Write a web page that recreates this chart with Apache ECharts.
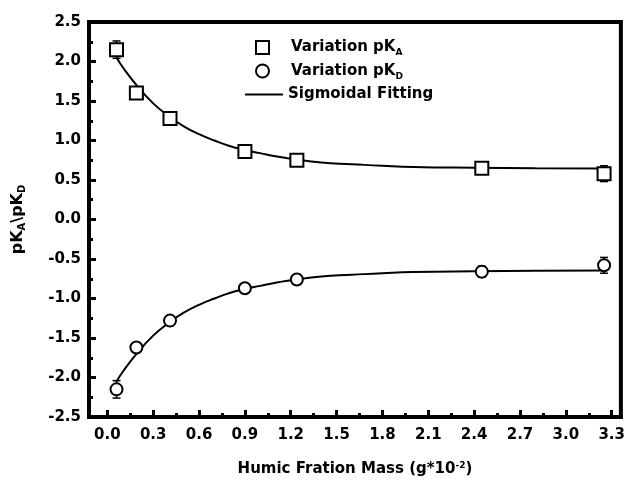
<!DOCTYPE html>
<html>
<head>
  <meta charset="UTF-8">
  <title>pKa pKd</title>
  <style>
    html, body { margin: 0; padding: 0; background: #fff; }
    #chart { width: 628px; height: 484px; }
  </style>
</head>
<body>
  <div id="chart"></div>
  <script src="https://cdn.jsdelivr.net/npm/echarts@6/dist/echarts.min.js"></script>
  <script>
    // measured points
    var massX = [0.06, 0.19, 0.41, 0.90, 1.24, 2.45, 3.25];
    var pKA = [2.15, 1.60, 1.28, 0.86, 0.75, 0.65, 0.58];
    var pKD = [-2.15, -1.62, -1.28, -0.87, -0.76, -0.66, -0.58];
    var errA = [0.11, 0.04, 0.04, 0.04, 0.04, 0.07, 0.10];
    var errD = [0.11, 0.04, 0.04, 0.04, 0.04, 0.07, 0.10];

    // sigmoidal fitting curves
    var fitX = [0.06, 0.1, 0.2, 0.3, 0.4, 0.5, 0.6, 0.7, 0.8, 0.9, 1.0, 1.1, 1.2, 1.4, 1.6, 1.8, 2.0, 2.4, 2.8, 3.25];
    var fitA = [2.05, 1.93, 1.68, 1.47, 1.31, 1.18, 1.08, 1.00, 0.93, 0.88, 0.84, 0.80, 0.77, 0.72, 0.70, 0.68, 0.665, 0.655, 0.65, 0.645];
    var fitD = [-2.05, -1.93, -1.68, -1.47, -1.31, -1.18, -1.08, -1.00, -0.93, -0.88, -0.84, -0.80, -0.77, -0.72, -0.70, -0.68, -0.665, -0.655, -0.65, -0.645];

    var xMajor = [0, 0.3, 0.6, 0.9, 1.2, 1.5, 1.8, 2.1, 2.4, 2.7, 3.0, 3.3];
    var xMinor = [0.15, 0.45, 0.75, 1.05, 1.35, 1.65, 1.95, 2.25, 2.55, 2.85, 3.15];

    function zip(xs, ys) {
      return xs.map(function (x, i) { return [x, ys[i]]; });
    }
    function errData(xs, ys, es) {
      return xs.map(function (x, i) { return [x, ys[i] - es[i], ys[i] + es[i]]; });
    }
    function renderErr(params, api) {
      var x = api.value(0);
      var lo = api.coord([x, api.value(1)]);
      var hi = api.coord([x, api.value(2)]);
      var w = 4;
      var st = { stroke: '#000', lineWidth: 1.5 };
      return {
        type: 'group',
        children: [
          { type: 'line', shape: { x1: lo[0], y1: lo[1], x2: hi[0], y2: hi[1] }, style: st },
          { type: 'line', shape: { x1: lo[0] - w, y1: lo[1], x2: lo[0] + w, y2: lo[1] }, style: st },
          { type: 'line', shape: { x1: hi[0] - w, y1: hi[1], x2: hi[0] + w, y2: hi[1] }, style: st }
        ]
      };
    }

    var font = 'DejaVu Sans, sans-serif';
    var myChart = echarts.init(document.getElementById('chart'));
    var option = {
      backgroundColor: '#fff',
      animation: false,
      textStyle: { fontFamily: font },
      grid: {
        left: 89, right: 6, top: 22, bottom: 67,
        show: true, borderColor: '#000', borderWidth: 4
      },
      legend: [{
        orient: 'vertical',
        left: 250, top: 35,
        itemGap: 6,
        itemWidth: 13, itemHeight: 13,
        data: ['Variation pKA', 'Variation pKD'],
        formatter: function (name) {
          return '{t|' + name.slice(0, -1) + '}{s|' + name.slice(-1) + '}';
        },
        textStyle: {
          rich: {
            t: { fontSize: 15, fontWeight: 'bold', color: '#000', fontFamily: font, padding: [0, 0, 0, 17] },
            s: { fontSize: 9, fontWeight: 'bold', color: '#000', fontFamily: font, padding: [11, 0, 0, 0] }
          }
        }
      }, {
        orient: 'vertical',
        left: 240, top: 82,
        itemWidth: 38, itemHeight: 2,
        data: [{ name: 'Sigmoidal Fitting', icon: 'rect' }],
        itemStyle: { color: '#000' },
        textStyle: { fontSize: 15, fontWeight: 'bold', color: '#000', fontFamily: font }
      }],
      xAxis: [{
        type: 'value',
        min: -0.12, max: 3.36,
        name: '{t|Humic Fration Mass (g*10}{s|-2}{t|)}',
        nameLocation: 'middle',
        nameGap: 44,
        nameTextStyle: {
          rich: {
            t: { fontSize: 15, fontWeight: 'bold', color: '#000', fontFamily: font },
            s: { fontSize: 9, fontWeight: 'bold', color: '#000', fontFamily: font, padding: [0, 0, 8, 0] }
          }
        },
        axisLine: { onZero: false, lineStyle: { color: '#000', width: 4 } },
        axisTick: { inside: true, length: 7, lineStyle: { color: '#000', width: 3 }, customValues: xMajor },
        axisLabel: {
          customValues: xMajor, margin: 11,
          fontSize: 15, fontWeight: 'bold', color: '#000',
          formatter: function (v) { return v.toFixed(1); }
        },
        splitLine: { show: false }
      }, {
        type: 'value',
        min: -0.12, max: 3.36,
        position: 'bottom',
        axisLine: { show: false, onZero: false },
        axisTick: { inside: true, length: 4, lineStyle: { color: '#000', width: 3 }, customValues: xMinor },
        axisLabel: { show: false },
        splitLine: { show: false }
      }],
      yAxis: {
        type: 'value',
        min: -2.5, max: 2.5, interval: 0.5,
        name: '{t|pK}{s|A}{t|\\pK}{s|D}',
        nameLocation: 'middle',
        nameGap: 62,
        nameRotate: 90,
        nameTextStyle: {
          rich: {
            t: { fontSize: 16, fontWeight: 'bold', color: '#000', fontFamily: font },
            s: { fontSize: 10, fontWeight: 'bold', color: '#000', fontFamily: font, padding: [8, 0, 0, 0] }
          }
        },
        axisLine: { onZero: false, lineStyle: { color: '#000', width: 4 } },
        axisTick: { inside: true, length: 7, lineStyle: { color: '#000', width: 3 } },
        minorTick: { show: true, splitNumber: 2, length: 4, lineStyle: { color: '#000', width: 3 } },
        axisLabel: {
          margin: 8, fontSize: 15, fontWeight: 'bold', color: '#000',
          formatter: function (v) { return v.toFixed(1); }
        },
        splitLine: { show: false }
      },
      series: [{
        name: 'Sigmoidal Fitting',
        type: 'line',
        data: zip(fitX, fitA),
        smooth: true,
        showSymbol: false,
        symbol: 'none',
        lineStyle: { color: '#000', width: 2 },
        itemStyle: { color: '#000' },
        z: 2
      }, {
        name: 'Sigmoidal Fitting',
        type: 'line',
        data: zip(fitX, fitD),
        smooth: true,
        showSymbol: false,
        symbol: 'none',
        lineStyle: { color: '#000', width: 2 },
        itemStyle: { color: '#000' },
        z: 2
      }, {
        type: 'custom',
        renderItem: renderErr,
        data: errData(massX, pKA, errA),
        z: 3
      }, {
        type: 'custom',
        renderItem: renderErr,
        data: errData(massX, pKD, errD),
        z: 3
      }, {
        name: 'Variation pKA',
        type: 'scatter',
        data: zip(massX, pKA),
        symbol: 'rect',
        symbolSize: 13,
        itemStyle: { color: '#fff', borderColor: '#000', borderWidth: 2, opacity: 1 },
        z: 4
      }, {
        name: 'Variation pKD',
        type: 'scatter',
        data: zip(massX, pKD),
        symbol: 'circle',
        symbolSize: 12,
        itemStyle: { color: '#fff', borderColor: '#000', borderWidth: 2, opacity: 1 },
        z: 4
      }]
    };
    myChart.setOption(option);
  </script>
</body>
</html>
